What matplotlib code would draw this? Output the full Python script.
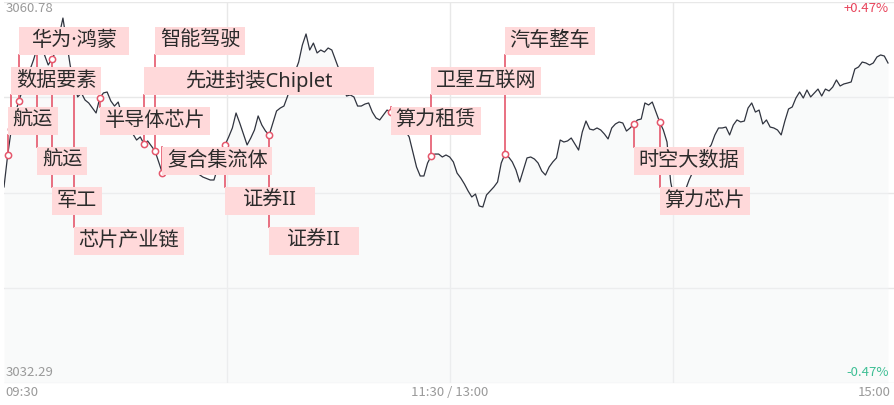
import matplotlib
matplotlib.use("Agg")
import matplotlib.pyplot as plt
from matplotlib.patches import Rectangle

plt.rcParams['font.family'] = ['Noto Sans CJK SC', 'DejaVu Sans']

# ---- data -----------------------------------------------------------------
# trading minutes since 09:30 (11:30 and 13:00 share the midpoint)
minutes = ([0, 1, 2, 4, 8, 9, 10, 11, 12, 13, 14, 15, 16, 17, 18, 19, 20,
            21, 22, 23, 24, 25, 26, 27, 28, 29, 30, 31, 32, 33, 34, 35, 36,
            37, 38, 39, 40, 41, 42, 43, 45, 47, 49, 52, 54, 56, 57, 58, 59]
           + list(range(60, 241)))

prices = [
    3046.95, 3049.34, 3051.28, 3053.38, 3056.44, 3057.34, 3057.64, 3056.82,
    3056.07, 3056.52, 3057.04, 3058.31, 3059.58, 3057.79, 3055.99, 3054.80,
    3053.68, 3053.98, 3053.45, 3053.23, 3052.85, 3052.48, 3053.60, 3053.98,
    3054.05, 3053.38, 3053.00, 3053.30, 3052.33, 3051.58, 3051.21, 3050.91,
    3050.46, 3050.69, 3050.16, 3050.39, 3050.01, 3049.64, 3048.82, 3047.99,
    3048.97, 3049.86, 3048.97, 3048.07, 3047.69, 3047.47, 3047.47, 3048.37,
    3049.12,
    # 60
    3050.09, 3050.69, 3051.36, 3052.48, 3051.73, 3050.91, 3050.09, 3050.61,
    3051.21, 3052.26,
    3051.58, 3051.13, 3050.84, 3051.73, 3052.63, 3052.85, 3053.00, 3053.75,
    3054.80, 3055.55,
    # 80
    3056.29, 3057.56, 3058.39, 3057.19, 3057.71, 3056.97, 3057.19, 3057.04,
    3057.34, 3057.19,
    3056.44, 3055.70, 3054.57, 3053.75, 3053.83, 3053.68, 3053.00, 3053.00,
    3053.15, 3053.23,
    # 100
    3052.55, 3052.11, 3051.96, 3052.33, 3052.70, 3052.55, 3052.11, 3051.81,
    3051.51, 3051.13,
    3050.69, 3049.56, 3048.44, 3047.77, 3047.77, 3048.74, 3049.27, 3049.41,
    3049.41, 3049.19,
    # 120
    3049.34, 3049.19, 3048.82, 3047.99, 3047.62, 3047.17, 3046.65, 3046.20,
    3046.42, 3045.53,
    3045.45, 3046.35, 3046.65, 3046.95, 3047.32, 3048.74, 3049.41, 3049.19,
    3048.82, 3048.22,
    # 140
    3047.32, 3048.22, 3049.12, 3049.19, 3049.04, 3048.74, 3048.14, 3047.84,
    3048.44, 3048.82,
    3049.12, 3050.46, 3050.31, 3050.39, 3050.61, 3050.16, 3049.71, 3051.06,
    3051.88, 3051.28,
    # 160
    3051.21, 3051.36, 3051.21, 3050.91, 3050.54, 3051.36, 3051.66, 3051.81,
    3051.73, 3051.13,
    3051.36, 3051.66, 3051.96, 3052.03, 3053.23, 3053.08, 3053.30, 3052.55,
    3051.81, 3051.21,
    # 180
    3050.31, 3047.32, 3045.97, 3045.60, 3046.12, 3046.72, 3047.47, 3048.07,
    3048.52, 3048.97,
    3049.34, 3049.71, 3050.09, 3050.84, 3051.36, 3051.36, 3051.43, 3050.84,
    3051.58, 3051.96,
    # 200
    3051.81, 3051.88, 3052.85, 3053.23, 3052.55, 3052.70, 3051.66, 3051.96,
    3051.43, 3051.36,
    3051.21, 3050.84, 3051.88, 3052.78, 3052.93, 3053.60, 3054.05, 3053.60,
    3054.20, 3053.68,
    # 220
    3053.98, 3054.27, 3053.75, 3054.27, 3054.13, 3054.42, 3054.95, 3054.50,
    3054.65, 3054.72,
    3054.80, 3055.77, 3055.92, 3056.29, 3056.22, 3056.07, 3056.22, 3056.67,
    3056.82, 3056.74,
    3056.22,
]
assert len(minutes) == len(prices)

y_high = 3060.78
y_low = 3032.29
pct_high = "+0.47%"
pct_low = "-0.47%"

tag_names = ["航运", "数据要素", "华为·鸿蒙", "航运", "军工", "芯片产业链",
             "半导体芯片", "先进封装Chiplet", "智能驾驶", "复合集流体",
             "证券II", "证券II", "算力租赁", "卫星互联网", "汽车整车",
             "时空大数据", "算力芯片"]
tag_minutes = [1, 2, 4, 9, 13, 19, 26, 38, 41, 43, 60, 72, 105, 116, 136,
               171, 178]

time_labels = ["09:30", "11:30 / 13:00", "15:00"]

# ---- layout ---------------------------------------------------------------
# stacking level of each tag box (0 = top row)
tag_rows = [2, 1, 0, 3, 4, 5, 2, 1, 0, 3, 4, 5, 2, 1, 0, 3, 4]

W, H = 895, 405
AX_L, AX_T, AX_W, AX_H = 4, 2, 892, 381          # plot box in pixels
SESSION = 240                                     # minutes in the session
PX_PER_MIN = 884 / SESSION
X_MAX = AX_W / PX_PER_MIN
PX_PER_PT = AX_H / (y_high - y_low)

LINE_C = "#30343f"
TAG_RED = "#e5576c"
TAG_FILL = "#ffd9da"
GRID_C = "#e8e8e8"
MUTED = "#9a9a9a"
TAG_FONT = ['Noto Sans', 'Noto Sans CJK SC', 'DejaVu Sans']

fig = plt.figure(figsize=(W / 100, H / 100), dpi=100)
ax = fig.add_axes([AX_L / W, (H - AX_T - AX_H) / H, AX_W / W, AX_H / H])
ax.set_xlim(0, X_MAX)
ax.set_ylim(y_low, y_high)
ax.axis("off")

# grid: quarters of the box
for k in range(5):
    ax.axhline(y_low + k * (y_high - y_low) / 4, color=GRID_C, lw=1, zorder=0)
for k in range(1, 4):
    ax.axvline(k * X_MAX / 4, color=GRID_C, lw=1, zorder=0)

# index line with a faint area below it
ax.fill_between(minutes, prices, y_low, color="#f3f4f6", alpha=0.45, lw=0,
                zorder=1)
ax.plot(minutes, prices, color=LINE_C, lw=0.9, zorder=2,
        solid_joinstyle="round")

price_at = dict(zip(minutes, prices))
box_h = 28 / PX_PER_PT


def row_top(row):
    top_px = 27 + 40 * row
    return y_high - (top_px - AX_T) / PX_PER_PT


for name, t, row in zip(tag_names, tag_minutes, tag_rows):
    p = price_at[t]
    top = row_top(row)
    bottom = top - box_h
    edge = bottom if bottom > p else top
    ax.plot([t, t], [p, edge], color=TAG_RED, lw=1.2, zorder=3)
    ax.plot([t], [p], "o", ms=4.5, mfc="white", mec=TAG_RED, mew=1.1,
            zorder=4)
    width = (len(name) * 20 + 10) / PX_PER_MIN
    ax.add_patch(Rectangle((t, bottom), width, box_h, facecolor=TAG_FILL,
                           edgecolor="none", zorder=5))
    ax.text(t + width / 2, bottom + box_h / 2, name, ha="center",
            va="center", fontsize=14.5, color="#2b2b2b", zorder=6,
            family=TAG_FONT)

# range labels inside the plot
fs = 9.5
fig.text(6 / W, 1 - 8 / H, f"{y_high:.2f}", ha="left", va="center",
         fontsize=fs, color=MUTED)
fig.text(6 / W, 1 - 373 / H, f"{y_low:.2f}", ha="left", va="center",
         fontsize=fs, color=MUTED)
fig.text(889 / W, 1 - 8 / H, pct_high, ha="right", va="center",
         fontsize=fs, color="#e8455c")
fig.text(889 / W, 1 - 373 / H, pct_low, ha="right", va="center",
         fontsize=fs, color="#3fbf95")

# time axis
fig.text(5 / W, 1 - 393 / H, time_labels[0], ha="left", va="center",
         fontsize=fs, color=MUTED)
fig.text(450 / W, 1 - 393 / H, time_labels[1], ha="center", va="center",
         fontsize=fs, color=MUTED)
fig.text(891 / W, 1 - 393 / H, time_labels[2], ha="right", va="center",
         fontsize=fs, color=MUTED)

fig.savefig("out.png", dpi=100, facecolor="white")
